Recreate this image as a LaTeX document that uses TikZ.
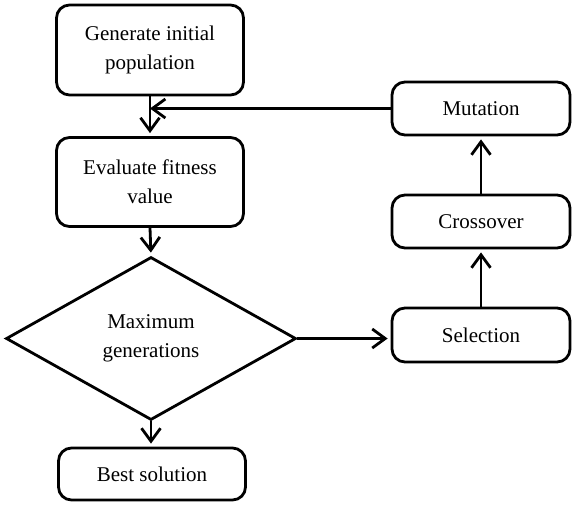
\documentclass[tikz,border=0pt]{standalone}
\usepackage{fontspec}
\setmainfont{Liberation Serif}
\usetikzlibrary{arrows.meta,shapes.geometric}
\begin{document}
\begin{tikzpicture}[x=1pt,y=-1pt,
  box/.style={draw,line width=2.8pt,rounded corners=13pt,align=center,inner sep=0pt,
    font=\fontsize{21}{29}\selectfont},
  dec/.style={draw,line width=2.8pt,diamond,inner sep=0pt,align=center,
    minimum width=290pt,minimum height=163pt,font=\fontsize{21}{29}\selectfont},
  arr/.style={line width=2.8pt,-{Straight Barb[length=13pt,width=19pt,line width=2.8pt]},shorten >=3pt}]
\useasboundingbox (0,0) rectangle (577,507);
\node[box,minimum width=187pt,minimum height=90pt] (gen) at (150,50) {Generate initial\\population};
\node[box,minimum width=187pt,minimum height=89pt] (eval) at (150,182) {Evaluate fitness\\value};
\node[dec] (dia) at (151,338.5) {Maximum\\generations};
\node[box,minimum width=187pt,minimum height=52pt] (best) at (152,474) {Best solution};
\node[box,minimum width=178pt,minimum height=53pt] (mut) at (481,108.5) {Mutation};
\node[box,minimum width=178pt,minimum height=53pt] (cross) at (481,221.5) {Crossover};
\node[box,minimum width=178pt,minimum height=54pt] (sel) at (481,335) {Selection};
\draw[arr] (gen.south) -- (eval.north);
\draw[arr] (eval.south) -- (dia.north);
\draw[arr] (dia.south) -- (dia.south |- best.north);
\draw[arr] (dia.east) -- (dia.east -| sel.west);
\draw[arr] (sel.north) -- (cross.south);
\draw[arr] (cross.north) -- (mut.south);
\draw[arr,shorten >=0pt] (mut.west) -- (mut.west -| gen.south);
\end{tikzpicture}
\end{document}
